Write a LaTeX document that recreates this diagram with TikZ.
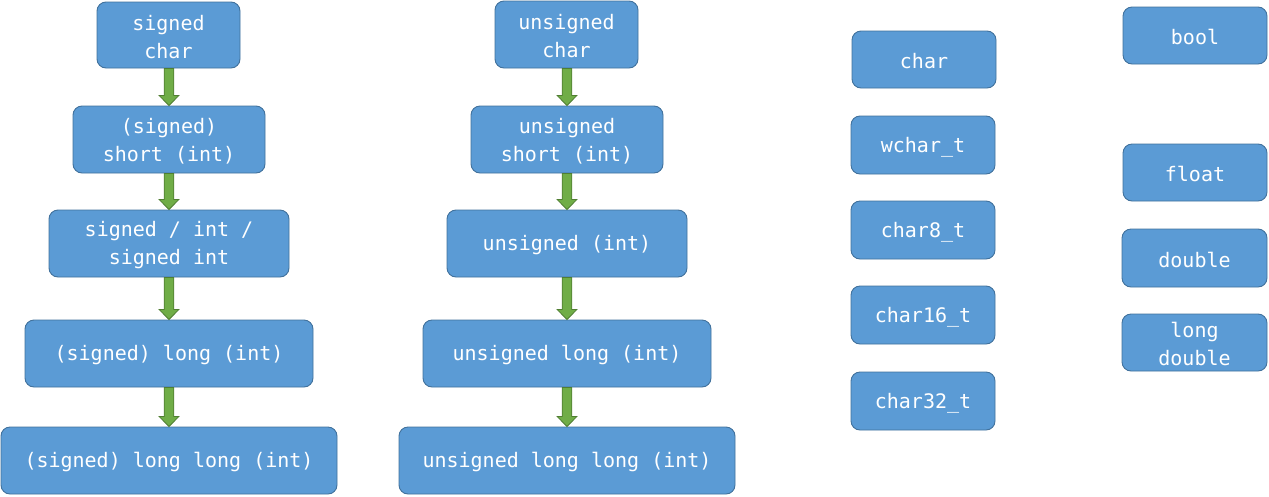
\documentclass[tikz,border=0pt]{standalone}
\usepackage{fontspec}
\setmonofont{DejaVu Sans Mono}
\usetikzlibrary{calc}
\definecolor{boxfill}{HTML}{5B9BD5}
\definecolor{boxline}{HTML}{41719C}
\definecolor{arrfill}{HTML}{70AD47}
\definecolor{arrline}{HTML}{507E32}
\tikzset{
  box/.style={draw=boxline, fill=boxfill, line width=0.9pt, rounded corners=9pt, inner sep=0pt},
  lbl/.style={text=white, font=\ttfamily\fontsize{20}{28}\selectfont, align=center, inner sep=0pt},
  arr/.style={draw=arrline, fill=arrfill, line width=0.8pt, line join=miter}
}
\newcommand{\bx}[6]{%
  \node[box, minimum width={(#4-#2)*1pt}, minimum height={(#5-#3)*1pt}]
    (#1) at ({(#2+#4)/2},{-(#3+#5)/2}) {};
  \node[lbl, yshift=-1.8pt] (#1t) at (#1.center) {#6};}
\newcommand{\darr}[2]{%
  \coordinate (#1s) at (#1.south -| #2.north);
  \draw[arr] ($(#1s)+(-4.8,0)$) -- ($(#2.north)+(-4.8,10)$) -- ($(#2.north)+(-9.8,10)$)
    -- (#2.north) -- ($(#2.north)+(9.8,10)$) -- ($(#2.north)+(4.8,10)$)
    -- ($(#1s)+(4.8,0)$) -- cycle;}
\begin{document}
\begin{tikzpicture}[x=1pt,y=1pt]
\useasboundingbox (0,0) rectangle (1269,-496);
% column 1
\bx{sc}{97}{2}{240}{68}{signed\\char}
\bx{ss}{73}{106}{265}{173}{(signed)\\short (int)}
\bx{si}{49}{210}{289}{277}{signed / int /\\signed int}
\bx{sl}{25}{320}{313}{387}{(signed) long (int)}
\bx{sll}{1}{427}{337}{494}{(signed) long long (int)}
% column 2
\bx{uc}{495}{1}{638}{68}{unsigned\\char}
\bx{us}{471}{106}{663}{173}{unsigned\\short (int)}
\bx{ui}{447}{210}{687}{277}{unsigned (int)}
\bx{ul}{423}{320}{711}{387}{unsigned long (int)}
\bx{ull}{399}{427}{735}{494}{unsigned long long (int)}
% column 3
\bx{ch}{852}{31}{996}{88}{char}
\bx{wc}{851}{116}{995}{174}{wchar\_t}
\bx{c8}{851}{201}{995}{259}{char8\_t}
\bx{c16}{851}{286}{995}{344}{char16\_t}
\bx{c32}{851}{372}{995}{430}{char32\_t}
% column 4
\bx{bo}{1123}{7}{1267}{64}{bool}
\bx{fl}{1123}{144}{1267}{201}{float}
\bx{db}{1122}{229}{1267}{287}{double}
\bx{ld}{1122}{314}{1267}{371}{long\\double}
% arrows
\darr{sc}{ss}
\darr{ss}{si}
\darr{si}{sl}
\darr{sl}{sll}
\darr{uc}{us}
\darr{us}{ui}
\darr{ui}{ul}
\darr{ul}{ull}
\end{tikzpicture}
\end{document}
